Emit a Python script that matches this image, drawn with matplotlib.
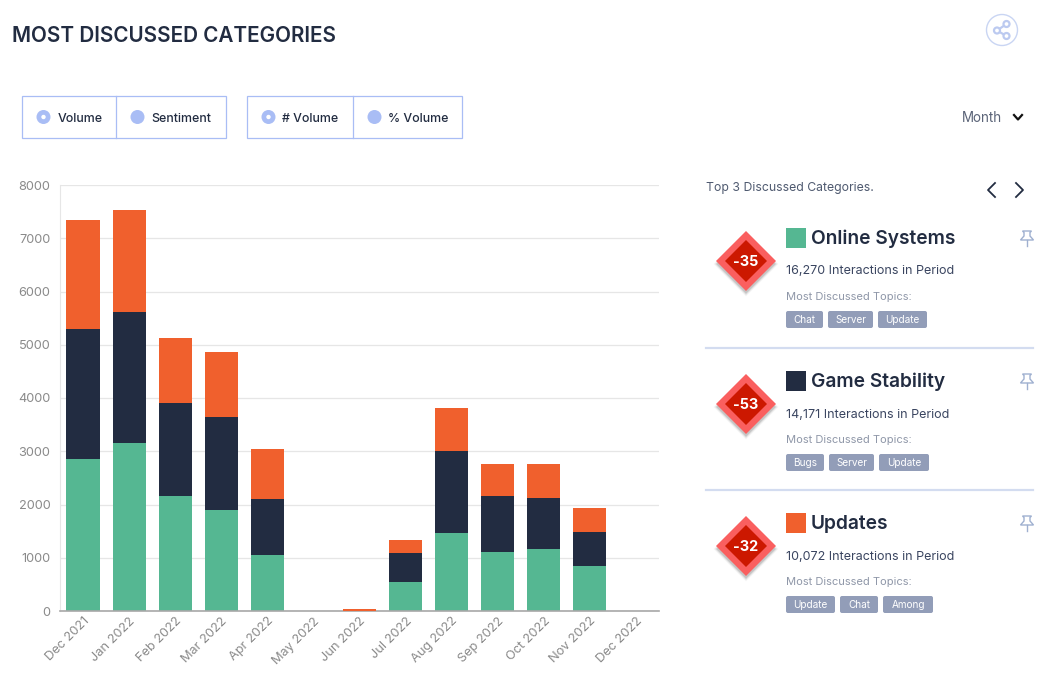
import matplotlib
matplotlib.use("Agg")
import matplotlib.pyplot as plt
from matplotlib.patches import Circle, Polygon, Rectangle, FancyBboxPatch

plt.rcParams["font.family"] = ["Inter", "DejaVu Sans"]

# Chart data
months = ["Dec 2021", "Jan 2022", "Feb 2022", "Mar 2022", "Apr 2022", "May 2022", "Jun 2022",
          "Jul 2022", "Aug 2022", "Sep 2022", "Oct 2022", "Nov 2022", "Dec 2022"]
online_systems = [2855, 3155, 2160, 1897, 1052, 0, 0, 545, 1465, 1108, 1164, 845, 0]
game_stability = [2441, 2460, 1746, 1746, 1051, 0, 0, 544, 1540, 1052, 958, 639, 0]
updates = [2047, 1915, 1221, 1221, 939, 0, 30, 244, 807, 600, 638, 450, 0]
y_ticks = [0, 1000, 2000, 3000, 4000, 5000, 6000, 7000, 8000]

GREEN = "#55b792"
NAVY = "#222c41"
ORANGE = "#f0602d"
PERIWINKLE = "#a9bdf5"
DARK = "#222c41"
GREY = "#8a8a8a"
TAG = "#929db8"
W, H = 1048, 688

fig = plt.figure(figsize=(W / 100, H / 100), dpi=100, facecolor="white")

# Stacked bar chart
ax = fig.add_axes([60 / W, 1 - 611 / H, 599 / W, 426 / H])
x = list(range(len(months)))
bottom_two = [a + b for a, b in zip(online_systems, game_stability)]
ax.bar(x, online_systems, width=0.72, color=GREEN, linewidth=0, zorder=3)
ax.bar(x, game_stability, width=0.72, bottom=online_systems, color=NAVY, linewidth=0, zorder=3)
ax.bar(x, updates, width=0.72, bottom=bottom_two, color=ORANGE, linewidth=0, zorder=6)
ax.set_xlim(-0.5, 12.5)
ax.set_ylim(0, 8000)
ax.set_yticks(y_ticks)
ax.set_xticks(x)
ax.set_xticklabels(months, rotation=45, ha="right", rotation_mode="anchor", fontsize=9.2, color=GREY)
ax.tick_params(axis="x", length=0, pad=3)
ax.tick_params(axis="y", length=0, pad=7, labelsize=9.2, labelcolor=GREY)
ax.grid(axis="y", color="#e6e6e6", linewidth=0.9, zorder=0)
for side in ("top", "right"):
    ax.spines[side].set_visible(False)
ax.spines["left"].set_color("#e6e6e6")
ax.spines["bottom"].set_color("#a8a8a8")
ax.spines["bottom"].set_linewidth(1.2)
ax.spines["bottom"].set_zorder(5)

# Page furniture is laid out in pixel coordinates on a full-figure overlay
ui = fig.add_axes([0, 0, 1, 1], facecolor="none")
ui.set_xlim(0, W)
ui.set_ylim(H, 0)
ui.axis("off")

ui.text(12, 36, "MOST DISCUSSED CATEGORIES", fontsize=14.9, fontweight="semibold", color=DARK, va="center")

# Share button
ui.add_patch(Circle((1002, 30), 15.5, fc="white", ec="#c9d5f3", lw=1))
share_nodes = [(1006.5, 24), (997, 30.5), (1006.5, 36)]
ui.plot([share_nodes[0][0], share_nodes[1][0], share_nodes[2][0]],
        [share_nodes[0][1], share_nodes[1][1], share_nodes[2][1]], color="#bccaf0", lw=1.6)
for node in share_nodes:
    ui.add_patch(Circle(node, 3, fc="white", ec="#bccaf0", lw=1.6, zorder=4))


def toggle_group(x0, xm, x1, first, second):
    ui.add_patch(Rectangle((x0, 96), x1 - x0, 42, fc="white", ec=PERIWINKLE, lw=0.9))
    ui.plot([xm, xm], [96, 138], color=PERIWINKLE, lw=0.9)
    ui.add_patch(Circle((x0 + 21.5, 117), 7, fc=PERIWINKLE, ec="none"))
    ui.add_patch(Circle((x0 + 21.5, 117), 2.2, fc="white", ec="none"))
    ui.add_patch(Circle((xm + 21.5, 117), 7, fc=PERIWINKLE, ec="none"))
    ui.text(x0 + 35.5, 118.5, first, fontsize=8.9, fontweight="medium", color=DARK, va="center")
    ui.text(xm + 35.5, 118.5, second, fontsize=8.9, fontweight="medium", color=DARK, va="center")


toggle_group(22, 116, 226, "Volume", "Sentiment")
toggle_group(247, 353, 462, "# Volume", "% Volume")

# Period selector
ui.text(962, 118.5, "Month", fontsize=9.7, color="#5b6478", va="center")
ui.plot([1014, 1018, 1022], [115, 119.5, 115], color="#111111", lw=1.6)

# Side panel
ui.text(706, 188.5, "Top 3 Discussed Categories.", fontsize=8.8, color="#4f5a70", va="center")
ui.plot([995, 988, 995], [183, 190, 197], color=DARK, lw=1.3)
ui.plot([1016, 1023, 1016], [183, 190, 197], color=DARK, lw=1.3)

category_names = ["Online Systems", "Game Stability", "Updates"]
category_colors = [GREEN, NAVY, ORANGE]
interaction_counts = ["16,270", "14,171", "10,072"]
sentiment_scores = ["-35", "-53", "-32"]
topic_tags = [["Chat", "Server", "Update"], ["Bugs", "Server", "Update"], ["Update", "Chat", "Among"]]
tag_widths = [[37, 45, 49], [38, 45, 50], [49, 38, 50]]
card_tops = [228, 371, 513]


def diamond(cx, cy, r):
    return [(cx, cy - r), (cx + r, cy), (cx, cy + r), (cx - r, cy)]


def pin(cx, cy):
    outline = [(cx - 4.5, cy - 7), (cx + 4.5, cy - 7), (cx + 3, cy - 5.5), (cx + 3, cy - 2),
               (cx + 6.5, cy + 2), (cx - 6.5, cy + 2), (cx - 3, cy - 2), (cx - 3, cy - 5.5)]
    ui.add_patch(Polygon(outline, closed=True, fc="white", ec="#9fb0d0", lw=1))
    ui.plot([cx, cx], [cy + 2, cy + 8], color="#9fb0d0", lw=1)


for i, top in enumerate(card_tops):
    cy = top + 33
    # Soft drop shadow built from stacked translucent diamonds
    for grow, alpha in zip((2.5, 1.5, 0.5, -0.5), (0.03, 0.05, 0.07, 0.09)):
        ui.add_patch(Polygon(diamond(746, cy + 3, 30 + grow), closed=True, fc="black", ec="none", alpha=alpha))
    ui.add_patch(Polygon(diamond(746, cy, 30), closed=True, fc="#fa5f5f", ec="none"))
    ui.add_patch(Polygon(diamond(746, cy, 21), closed=True, fc="#cc1800", ec="none"))
    ui.text(745.5, cy + 1, sentiment_scores[i], fontsize=10.4, fontweight="bold", color="white",
            ha="center", va="center")

    ui.add_patch(Rectangle((786, top), 20, 20, fc=category_colors[i], ec="none"))
    ui.text(811, top + 11, category_names[i], fontsize=13.8, fontweight="semibold", color=DARK, va="center")
    pin(1027, top + 10)

    ui.text(786, top + 43.5, f"{interaction_counts[i]} Interactions in Period", fontsize=9,
            color="#3a4560", va="center")
    ui.text(786, top + 69, "Most Discussed Topics:", fontsize=8, color="#8f97a8", va="center")

    tag_x = 786
    for label, width in zip(topic_tags[i], tag_widths[i]):
        ui.add_patch(FancyBboxPatch((tag_x + 2, top + 85), width - 4, 13,
                                    boxstyle="round,pad=2,rounding_size=2", fc=TAG, ec="none"))
        ui.text(tag_x + width / 2, top + 92, label, fontsize=7.2, color="white", ha="center", va="center")
        tag_x += width + 5

for y in (348, 490):
    ui.plot([706, 1033], [y, y], color="#d3dcf0", lw=1.6)

fig.savefig("out.png", dpi=100)
